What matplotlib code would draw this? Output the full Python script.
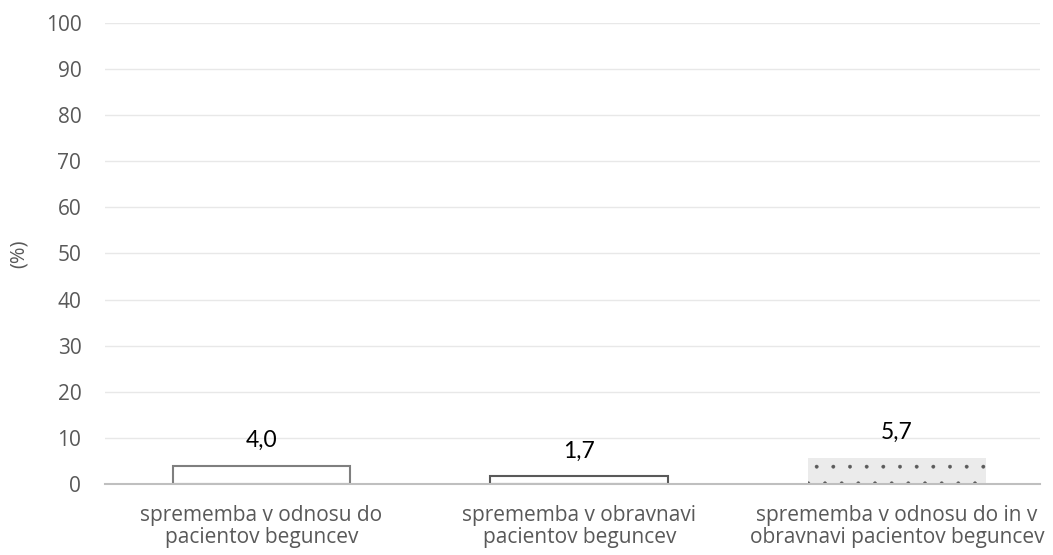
import matplotlib.pyplot as plt
import matplotlib as mpl

categories = ["sprememba v odnosu do\npacientov beguncev",
              "sprememba v obravnavi\npacientov beguncev",
              "sprememba v odnosu do in v\nobravnavi pacientov beguncev"]
values = [4.0, 1.7, 5.7]
labels = ["4,0", "1,7", "5,7"]
yticks = list(range(0, 101, 10))

plt.rcParams['font.family'] = ['Open Sans', 'DejaVu Sans']
mpl.rcParams['hatch.linewidth'] = 0.3

fig = plt.figure(figsize=(10.53, 5.55), dpi=100)
ax = fig.add_axes([0.0997, 0.128, 0.888, 0.8306])

x = range(len(categories))
bars = ax.bar(x, values, width=0.56, zorder=3)

# bar 1: white with grey edge
bars[0].set_facecolor("white")
bars[0].set_edgecolor("#7f7f7f")
bars[0].set_linewidth(1.5)
# bar 2: white with dark edge
bars[1].set_facecolor("white")
bars[1].set_edgecolor("#595959")
bars[1].set_linewidth(1.5)
# bar 3: light grey dotted
bars[2].set_facecolor("#ebebeb")
bars[2].set_edgecolor("#5a5a5a")
bars[2].set_linewidth(0)
bars[2].set_hatch(".")

for b, lab in zip(bars, labels):
    ax.annotate(lab, (b.get_x() + b.get_width() / 2, b.get_height()),
                xytext=(0, 18), textcoords="offset points",
                ha="center", va="center", fontsize=16.5, color="black",
                family=["Lato", "DejaVu Sans"])

ax.set_ylim(0, 100)
ax.set_xlim(-0.4925, 2.45)
ax.set_yticks(yticks)
ax.set_yticklabels([str(t) for t in yticks], fontsize=15, color="#595959")
ax.set_xticks(list(x))
ax.set_xticklabels(categories, fontsize=15, color="#595959", linespacing=1.1)
ax.tick_params(axis="both", length=0)
ax.tick_params(axis="x", pad=15)
ax.tick_params(axis="y", pad=17)
ax.yaxis.grid(True, color="#e8e8e8", lw=1, zorder=0)

for s in ["top", "right", "left"]:
    ax.spines[s].set_visible(False)
ax.spines["bottom"].set_color("#bfbfbf")
ax.spines["bottom"].set_linewidth(1.5)
ax.spines["bottom"].set_zorder(4)

ax.set_ylabel("(%)", fontsize=14.5, color="#595959", labelpad=12)

fig.savefig("out.png", dpi=100)
